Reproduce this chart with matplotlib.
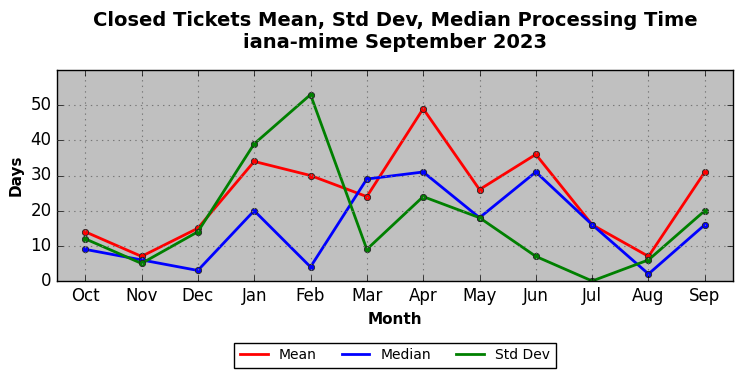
import matplotlib
matplotlib.use("Agg")
import matplotlib.pyplot as plt

# ── data ─────────────────────────────────────────────────────────────────────
months = ["Oct", "Nov", "Dec", "Jan", "Feb", "Mar",
          "Apr", "May", "Jun", "Jul", "Aug", "Sep"]
mean_days   = [14, 7, 15, 34, 30, 24, 49, 26, 36, 16, 7, 31]
median_days = [9, 6, 3, 20, 4, 29, 31, 18, 31, 16, 2, 16]
std_days    = [12, 5, 14, 39, 53, 9, 24, 18, 7, 0, 6, 20]


def main():
    plt.style.use("classic")
    fig = plt.figure(figsize=(7.42, 3.78), dpi=100)
    ax = fig.add_axes([57 / 742, 1 - 281 / 378, 676 / 742, 211 / 378])
    ax.set_facecolor("#c0c0c0")

    x = list(range(len(months)))
    for vals, col, lab in [(mean_days, "red", "Mean"),
                           (median_days, "blue", "Median"),
                           (std_days, "green", "Std Dev")]:
        ax.plot(x, vals, color=col, lw=2, marker="o", ms=4.5,
                markeredgecolor="#222222", markeredgewidth=0.6, label=lab)

    ax.set_xlim(-0.5, 11.5)
    ax.set_ylim(0, 60)
    ax.set_xticks(x)
    ax.set_xticklabels(months, fontsize=12)
    ax.set_yticks([0, 10, 20, 30, 40, 50])
    ax.tick_params(labelsize=12)
    ax.grid(True, color="#777777", ls=":", lw=0.8)

    ax.set_xlabel("Month", fontsize=11, fontweight="bold")
    ax.set_ylabel("Days", fontsize=11, fontweight="bold")
    ax.set_title("Closed Tickets Mean, Std Dev, Median Processing Time\n"
                 "iana-mime September 2023",
                 fontsize=14, fontweight="bold", pad=16)

    leg = ax.legend(loc="upper center", bbox_to_anchor=(0.5, -0.26), ncol=3,
                    fontsize=10, frameon=True, fancybox=False,
                    handlelength=2, columnspacing=1.8, numpoints=1)
    for h in leg.legend_handles:
        h.set_marker("")

    fig.savefig("out.png", dpi=100, facecolor="white")
    plt.close(fig)


if __name__ == "__main__":
    main()
